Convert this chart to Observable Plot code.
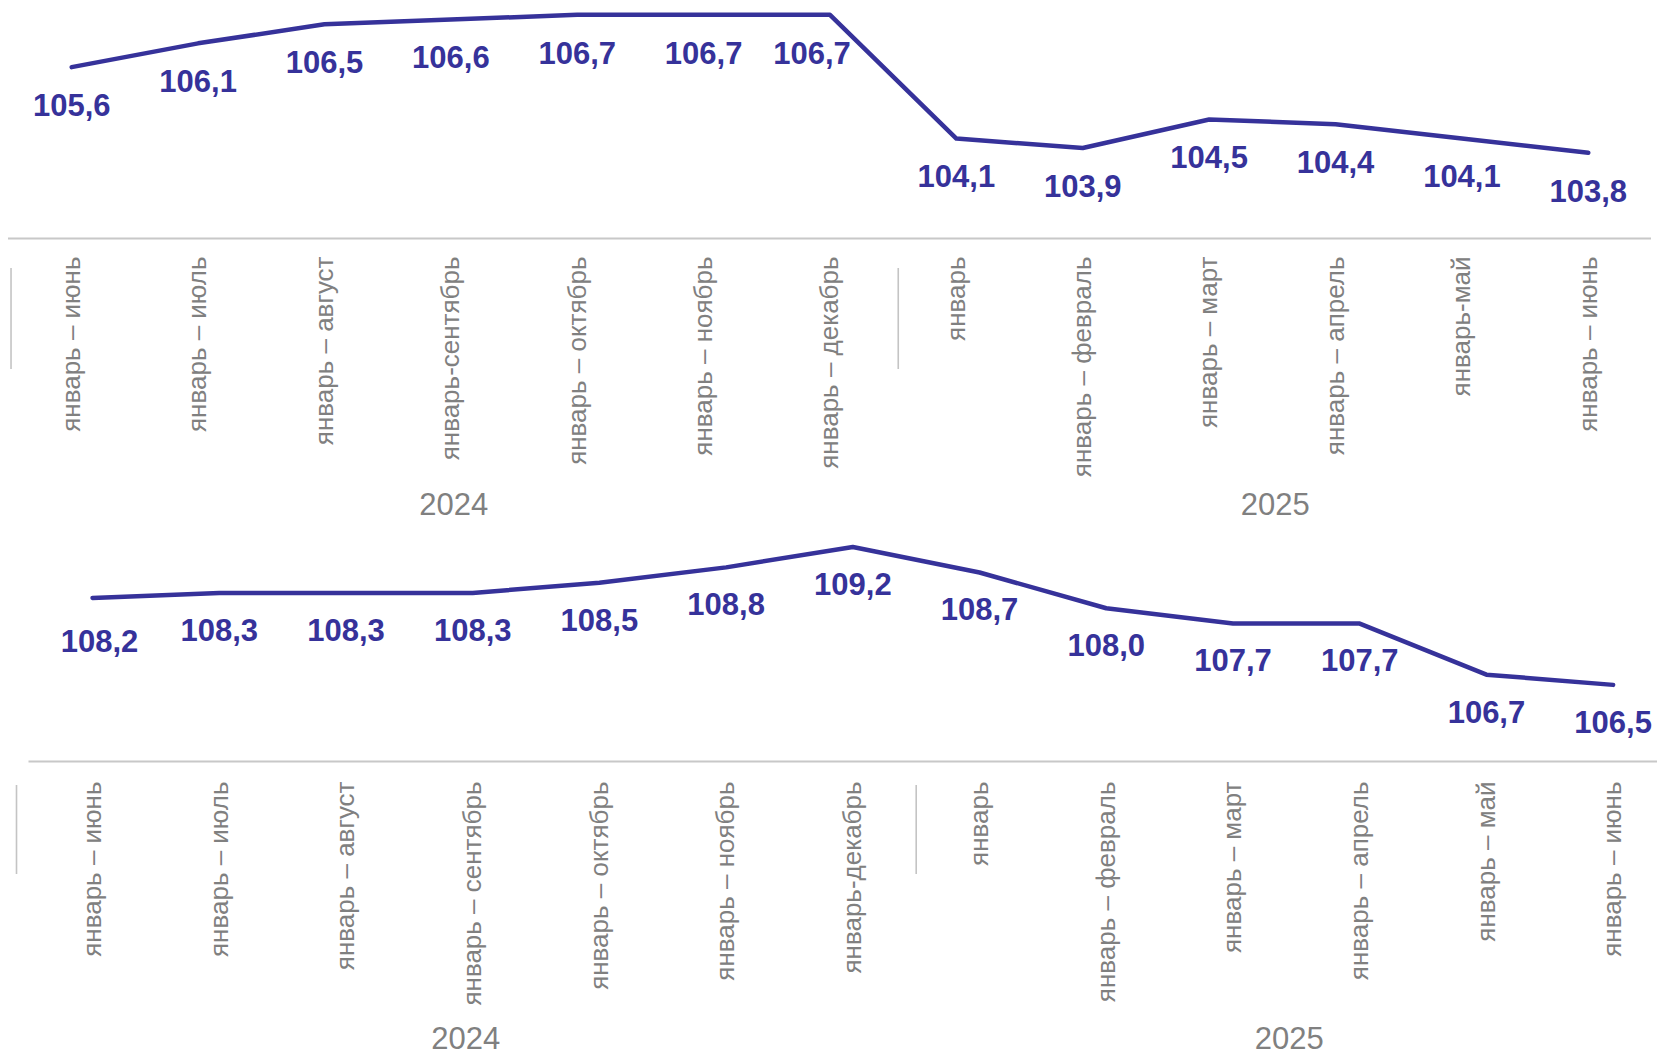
<!DOCTYPE html>
<html><head><meta charset="utf-8">
<script src="https://cdn.jsdelivr.net/npm/d3@7"></script>
<script src="https://cdn.jsdelivr.net/npm/@observablehq/plot@0.6"></script>
<style>
html,body{margin:0;padding:0;background:#fff;overflow:hidden;}
#chart svg{display:block;}
</style></head><body><div id="chart"></div>
<script>
const topLabels = ["январь – июнь","январь – июль","январь – август","январь-сентябрь","январь – октябрь","январь – ноябрь","январь – декабрь","январь","январь – февраль","январь – март","январь – апрель","январь-май","январь – июнь"];
const topValues = [105.6,106.1,106.5,106.6,106.7,106.7,106.7,104.1,103.9,104.5,104.4,104.1,103.8];
const bottomLabels = ["январь – июнь","январь – июль","январь – август","январь – сентябрь","январь – октябрь","январь – ноябрь","январь-декабрь","январь","январь – февраль","январь – март","январь – апрель","январь – май","январь – июнь"];
const bottomValues = [108.2,108.3,108.3,108.3,108.5,108.8,109.2,108.7,108.0,107.7,107.7,106.7,106.5];
const years = ["2024","2025"];
const yearGroups = [[0,1,2,3,4,5,6],[7,8,9,10,11,12]];

const LINE = "#36329a";
const GRAY = "#808080";
const fmt = v => v.toFixed(1).replace(".", ",");

function panel(cfg) {
  const data = cfg.values.map((v, i) => ({i, v}));
  const normal = data.filter(d => !(d.i in cfg.shifts));
  const marks = [
    Plot.ruleY([cfg.yDomain[0]], {stroke: "#c8c8c8", strokeWidth: 2, insetLeft: cfg.axisInset}),
    Plot.ruleX(cfg.seps, {stroke: "#c4c4c4", strokeWidth: 1.6, insetTop: cfg.frameH - cfg.sepLen, dy: cfg.sepDy}),
    Plot.line(data, {x: "i", y: "v", stroke: LINE, strokeWidth: 4.5, strokeLinecap: "round", strokeLinejoin: "round"}),
    Plot.text(normal, {x: "i", y: "v", text: d => fmt(d.v), dy: cfg.labelDy, fill: LINE, fontSize: 31, fontWeight: "bold"}),
    ...Object.entries(cfg.shifts).map(([k, s]) =>
      Plot.text(data.filter(d => d.i === +k), {x: "i", y: "v", text: d => fmt(d.v), dx: s[0], dy: s[1], fill: LINE, fontSize: 31, fontWeight: "bold"})),
    Plot.axisX({ticks: d3.range(cfg.labels.length), tickFormat: i => cfg.labels[i], tickRotate: -90, tickSize: 0, tickPadding: cfg.tickPad, fontSize: 26, fill: GRAY, textAnchor: "end", lineAnchor: "middle", label: null}),
    Plot.text(years.map((y, k) => ({y, x: d3.mean(yearGroups[k])})), {x: "x", text: "y", frameAnchor: "bottom", dx: cfg.yearDx, dy: cfg.yearDy, fontSize: 31, fill: GRAY})
  ];
  return Plot.plot({
    width: 1657,
    height: cfg.height,
    marginTop: 0,
    marginBottom: cfg.height - cfg.frameH,
    marginLeft: cfg.marginLeft,
    marginRight: cfg.marginRight,
    style: {fontFamily: "'Liberation Sans', Arial, sans-serif", background: "#fff", overflow: "visible"},
    x: {type: "linear", domain: cfg.xDomain, label: null, axis: null},
    y: {domain: cfg.yDomain, axis: null, label: null},
    marks
  });
}

const el = document.getElementById("chart");
el.append(panel({
  labels: topLabels, values: topValues, yDomain: [102, 107], xDomain: [-0.5, 12.5],
  height: 526, frameH: 238, marginLeft: 8, marginRight: 6, axisInset: 0,
  seps: [-0.48, 6.54], sepLen: 101, sepDy: 131, tickPad: 18, yearDx: 3, yearDy: 276, labelDy: 39,
  shifts: {6: [-18, 39]}
}));
el.append(panel({
  labels: bottomLabels, values: bottomValues, yDomain: [105, 109.6], xDomain: [-0.6, 12.35],
  height: 529, frameH: 235, marginLeft: 16, marginRight: 0, axisInset: 12.5,
  seps: [-0.6, 6.5], sepLen: 89, sepDy: 113, tickPad: 20, yearDx: -7, yearDy: 287, labelDy: 38,
  shifts: {0: [7, 44]}
}));
</script></body></html>
